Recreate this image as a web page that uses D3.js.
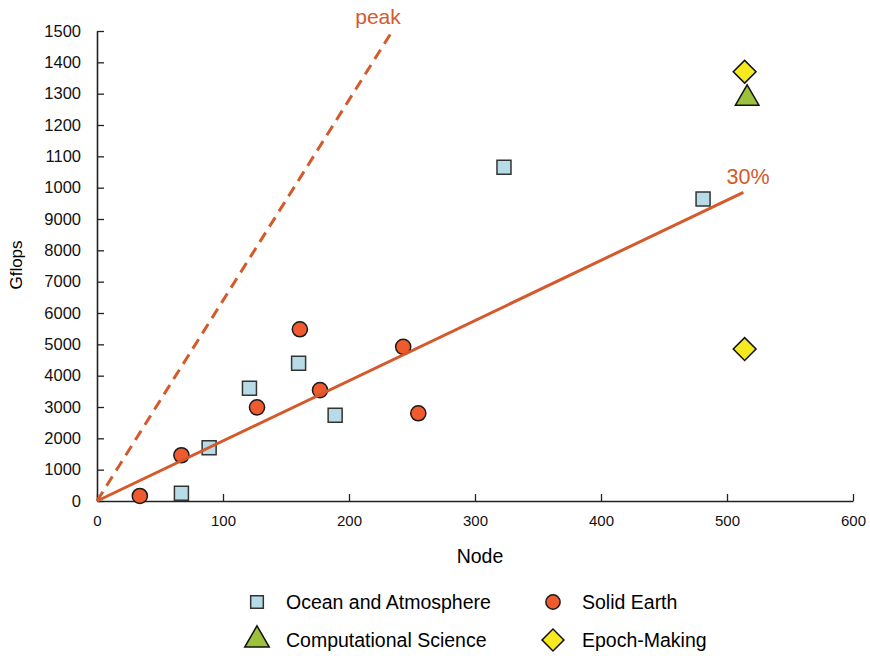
<!DOCTYPE html>
<html>
<head>
<meta charset="utf-8">
<script src="https://cdn.jsdelivr.net/npm/d3@7"></script>
<style>
  body { margin: 0; background: #fff; }
  svg { font-family: "Liberation Sans", Arial, Helvetica, sans-serif; }
</style>
</head>
<body>
<svg id="chart" width="870" height="656"></svg>
<script>
// node count vs Gflops
let ocean = [[67, 250], [89, 1700], [121, 3600], [160, 4400], [189, 2740], [323, 10650], [481, 9640]]
let solidEarth = [[34, 160], [67, 1460], [127, 2990], [161, 5480], [177, 3540], [243, 4920], [255, 2800]]
let compSci = [[516, 12850]]
let epoch = [[514, 13700], [514, 4850]]

let peakPerNode = 64
let efficiency = 0.3
let lineEnd = 513

let xTicks = [0, 100, 200, 300, 400, 500, 600]
let yTicks = [0, 1000, 2000, 3000, 4000, 5000, 6000, 7000, 8000, 9000, 10000, 11000, 12000, 13000, 14000, 15000]
let yTickLabels = ["0", "1000", "2000", "3000", "4000", "5000", "6000", "7000", "8000", "9000", "1000", "1100", "1200", "1300", "1400", "1500"]

let svg = d3.select("#chart")

let x = d3.scaleLinear().domain([0, 600]).range([97, 853])
let y = d3.scaleLinear().domain([0, 15000]).range([501, 31])

let red = "#d4592b"

// axes, ticks pointing inward
let gX = svg.append("g")
    .attr("transform", "translate(0,501)")
    .call(d3.axisBottom(x).tickValues(xTicks).tickSizeInner(-7).tickSizeOuter(0).tickPadding(14))
let gY = svg.append("g")
    .attr("transform", "translate(97,0)")
    .call(d3.axisLeft(y).tickValues(yTicks).tickSizeInner(-7).tickSizeOuter(0).tickPadding(16)
        .tickFormat((d, i) => yTickLabels[i]))

svg.selectAll(".domain").attr("stroke", "#222").attr("stroke-width", 1.6)
svg.selectAll(".tick line").attr("stroke", "#222").attr("stroke-width", 1.3)
gX.selectAll("text").attr("font-size", 15).attr("fill", "#111").attr("font-family", null)
gY.selectAll("text").attr("font-size", 16.5).attr("fill", "#111").attr("font-family", null)

svg.append("text")
    .attr("x", 480).attr("y", 563)
    .attr("text-anchor", "middle")
    .attr("font-size", 19.5)
    .text("Node")

svg.append("text")
    .attr("transform", "translate(22,265) rotate(-90)")
    .attr("text-anchor", "middle")
    .attr("font-size", 17)
    .text("Gflops")

// marker shapes; diamond is a square turned 45 degrees
let shapes = {
    square: { type: d3.symbolSquare, size: 196, rot: 0 },
    circle: { type: d3.symbolCircle, size: 180, rot: 0 },
    triangle: { type: d3.symbolTriangle, size: 240, rot: 0 },
    diamond: { type: d3.symbolSquare, size: 260, rot: 45 }
}

let series = [
    { name: "Ocean and Atmosphere", data: ocean, shape: "square", fill: "#b7dce7", stroke: "#333", legendSize: 160 },
    { name: "Solid Earth", data: solidEarth, shape: "circle", fill: "#ef5a2e", stroke: "#1a1a1a", legendSize: 160 },
    { name: "Computational Science", data: compSci, shape: "triangle", fill: "#9cc23c", stroke: "#111", legendSize: 260 },
    { name: "Epoch-Making", data: epoch, shape: "diamond", fill: "#f6e91f", stroke: "#111", legendSize: 240 }
]

series.forEach(s => {
    let sh = shapes[s.shape]
    svg.append("g").selectAll("path")
        .data(s.data)
        .enter().append("path")
            .attr("d", d3.symbol().type(sh.type).size(sh.size))
            .attr("transform", d => "translate(" + x(d[0]) + "," + y(d[1]) + ") rotate(" + sh.rot + ")")
            .attr("fill", s.fill)
            .attr("stroke", s.stroke)
            .attr("stroke-width", 1.5)
})

// peak and 30% lines
let peakEnd = 15000 / peakPerNode
svg.append("line")
    .attr("x1", x(0)).attr("y1", y(0))
    .attr("x2", x(peakEnd)).attr("y2", y(15000))
    .attr("stroke", red).attr("stroke-width", 3)
    .attr("stroke-dasharray", "11,7")

svg.append("line")
    .attr("x1", x(0)).attr("y1", y(0))
    .attr("x2", x(lineEnd)).attr("y2", y(lineEnd * peakPerNode * efficiency))
    .attr("stroke", red).attr("stroke-width", 3)

svg.append("text")
    .attr("x", 378).attr("y", 24)
    .attr("text-anchor", "middle")
    .attr("font-size", 21)
    .attr("fill", red)
    .text("peak")

svg.append("text")
    .attr("x", 748).attr("y", 184)
    .attr("text-anchor", "middle")
    .attr("font-size", 21.5)
    .attr("fill", red)
    .text("30%")

// legend
let legendPos = [[257, 602], [553, 602], [257, 640], [553, 640]]
series.forEach((s, i) => {
    let [lx, ly] = legendPos[i]
    let sh = shapes[s.shape]
    svg.append("path")
        .attr("d", d3.symbol().type(sh.type).size(s.legendSize))
        .attr("transform", "translate(" + lx + "," + ly + ") rotate(" + sh.rot + ")")
        .attr("fill", s.fill)
        .attr("stroke", s.stroke)
        .attr("stroke-width", 1.5)
    svg.append("text")
        .attr("x", lx + 29).attr("y", ly + 7)
        .attr("font-size", 19.5)
        .text(s.name)
})
</script>
</body>
</html>
